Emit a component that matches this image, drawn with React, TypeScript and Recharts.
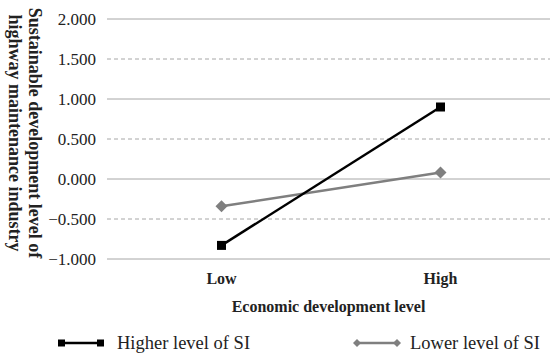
import { LineChart, Line, XAxis, YAxis, ReferenceLine, Legend } from 'recharts'

const categories = ['Low', 'High']
const higherSI = [-0.83, 0.9]
const lowerSI = [-0.34, 0.08]
const yTicks = [-1, -0.5, 0, 0.5, 1, 1.5, 2]

const data = categories.map((c, i) => ({ level: c, higher: higherSI[i], lower: lowerSI[i] }))

const SERIF = "'Liberation Serif', 'DejaVu Serif', serif"
const BLACK = '#000000'
const GRAY = '#7f7f7f'
const GRID = '#a6a6a6'
const INK = '#222222'

const fmt = (v: number) => (v < 0 ? '\u2212' : '') + Math.abs(v).toFixed(3)

function SquareDot(props: any) {
  const { cx, cy } = props
  return <rect x={cx - 4.5} y={cy - 4.5} width={9} height={9} fill={BLACK} />
}

function DiamondDot(props: any) {
  const { cx, cy } = props
  return <polygon points={`${cx},${cy - 6} ${cx + 6},${cy} ${cx},${cy + 6} ${cx - 6},${cy}`} fill={GRAY} />
}

function YTitle(props: any) {
  const { viewBox } = props
  const cy = viewBox.y + viewBox.height / 2 - 6
  const st = { fontFamily: SERIF, fontWeight: 'bold' as const, fontSize: 18, fill: INK }
  return (
    <g>
      <text x={35} y={cy} transform={`rotate(90 35 ${cy})`} textAnchor="middle" dominantBaseline="central" style={st}>
        Sustainable development level of
      </text>
      <text x={15} y={cy} transform={`rotate(90 15 ${cy})`} textAnchor="middle" dominantBaseline="central" style={st}>
        highway maintenance industry
      </text>
    </g>
  )
}

function XTitle(props: any) {
  const { viewBox } = props
  const cx = viewBox.x + viewBox.width / 2
  return (
    <text x={cx} y={312} textAnchor="middle" style={{ fontFamily: SERIF, fontWeight: 'bold', fontSize: 16, fill: INK }}>
      Economic development level
    </text>
  )
}

function LegendBox() {
  const st = { fontFamily: SERIF, fontSize: 18.5, fill: INK }
  return (
    <svg width={550} height={44} style={{ display: 'block' }}>
      <g>
        <line x1={61} x2={101} y1={29} y2={29} stroke={BLACK} strokeWidth={2.5} />
        <rect x={58} y={25.5} width={7} height={7} fill={BLACK} />
        <rect x={97} y={25.5} width={7} height={7} fill={BLACK} />
        <text x={117} y={35} style={st}>Higher level of SI</text>
      </g>
      <g>
        <line x1={357} x2={397} y1={29} y2={29} stroke={GRAY} strokeWidth={2.5} />
        <polygon points="357,25 361,29 357,33 353,29" fill={GRAY} />
        <polygon points="397,25 401,29 397,33 393,29" fill={GRAY} />
        <text x={410} y={35} style={st}>Lower level of SI</text>
      </g>
    </svg>
  )
}

export default function App() {
  return (
    <div style={{ position: 'absolute', left: 0, top: 0, width: 550, height: 358, background: '#fff' }}>
      <LineChart width={550} height={358} data={data} margin={{ top: 19, right: 0, left: 0, bottom: 0 }}>
        {yTicks.map((t) => (
          <ReferenceLine
            key={t}
            y={t}
            stroke={GRID}
            strokeWidth={1}
            strokeDasharray={t % 1 === 0 ? undefined : '4 3'}
          />
        ))}
        <XAxis
          dataKey="level"
          scale="band"
          padding={{ left: 5, right: 0 }}
          height={55}
          axisLine={false}
          tickLine={false}
          tickMargin={8}
          tick={{ style: { fontFamily: SERIF, fontWeight: 'bold', fontSize: 16 }, fill: INK }}
          label={<XTitle />}
        />
        <YAxis
          width={107}
          domain={[-1, 2]}
          ticks={yTicks}
          axisLine={false}
          tickLine={false}
          tickMargin={5}
          tickFormatter={fmt}
          tick={{ style: { fontFamily: SERIF, fontSize: 17 }, fill: INK }}
          label={<YTitle />}
        />
        <Legend verticalAlign="bottom" height={44} content={<LegendBox />} />
        <Line
          dataKey="lower"
          stroke={GRAY}
          strokeWidth={2.5}
          dot={<DiamondDot />}
          isAnimationActive={false}
        />
        <Line
          dataKey="higher"
          stroke={BLACK}
          strokeWidth={2.5}
          dot={<SquareDot />}
          isAnimationActive={false}
        />
      </LineChart>
    </div>
  )
}
